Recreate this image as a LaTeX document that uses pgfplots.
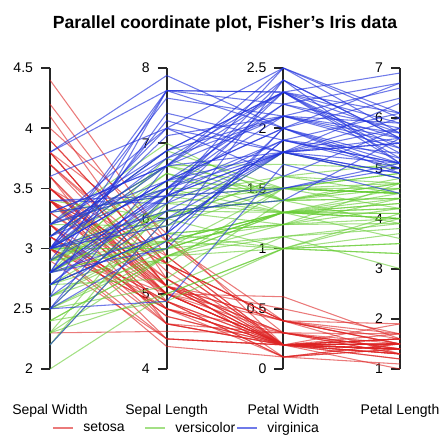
\documentclass[border=0pt]{standalone}
\usepackage{pgfplots}
\pgfplotsset{compat=1.18}
\usepackage{fontspec}
\setmainfont{Liberation Sans}
\newcommand\fs{\fontsize{10.5}{12.6}\selectfont}

\definecolor{cse}{RGB}{221,34,34}
\definecolor{cve}{RGB}{102,204,51}
\definecolor{cvi}{RGB}{34,51,221}

\tikzset{
  se/.style={cse, opacity=0.6, line width=0.8pt},
  ve/.style={cve, opacity=0.6, line width=0.8pt},
  vi/.style={cvi, opacity=0.65, line width=0.8pt},
}

% one flower: style, sepal length, sepal width, petal length, petal width
\newcommand{\fl}[5]{\addplot[#1, forget plot] coordinates {(0,#3) (1,#2) (2,#5) (3,#4)};}

\pgfplotsset{
  scaleax/.style={
    scale only axis, width=10pt, height=225.75pt, anchor=south west,
    xmin=0, xmax=1, axis x line=none, axis y line=left,
    y axis line style={-, line width=1.3pt, black!85},
    tick align=outside, major tick length=6.75pt,
    major tick style={line width=1.3pt, black!85},
    yticklabel style={font=\fs, xshift=-2.5pt},
    /pgf/number format/assume math mode=true,
  },
}

\begin{document}
\begin{tikzpicture}
\useasboundingbox (0,0) rectangle (330.75pt,325.5pt);

\begin{axis}[scaleax, at={(37.5pt,48.75pt)}, ymin=2, ymax=4.5, ytick={2,2.5,3,3.5,4,4.5}]
\end{axis}
\begin{axis}[scaleax, at={(125pt,48.75pt)}, ymin=4, ymax=8, ytick={4,5,6,7,8}]
\end{axis}
\begin{axis}[scaleax, at={(212.5pt,48.75pt)}, ymin=0, ymax=2.5, ytick={0,0.5,1,1.5,2,2.5}]
\end{axis}
\begin{axis}[scaleax, at={(300pt,48.75pt)}, ymin=1, ymax=7, ytick={1,2,3,4,5,6,7}]
\end{axis}

\begin{axis}[
  scale only axis, width=262.5pt, height=225.75pt,
  at={(37.5pt,48.75pt)}, anchor=south west,
  xmin=0, xmax=3, ymin=0, ymax=1, clip=false,
  axis line style={draw=none}, ytick=\empty,
  xtick={0,1,2,3}, major tick length=0pt,
  xticklabels={Sepal Width, Sepal Length, Petal Width, Petal Length},
  xticklabel style={font=\fs, anchor=base, yshift=-33.75pt},
  title={Parallel coordinate plot, Fisher's Iris data},
  title style={font=\bfseries\fontsize{13.2}{15.8}\selectfont, anchor=base, at={(0.5,1)}, yshift=23.5pt},
  y filter/.expression={x==0 ? (y-2)/2.5 : (x==1 ? (y-4)/4 : (x==2 ? y/2.5 : (y-1)/6))},
  legend columns=3,
  legend image code/.code={\draw[#1] (0pt,0pt) -- (15pt,0pt);},
  legend style={at={(0.0057,-0.196)}, anchor=west, draw=none, fill=none,
    inner sep=0pt, font=\fs, nodes={inner sep=0pt},
    /tikz/column sep=0pt,
    /tikz/every odd column/.append style={column sep=7.5pt}},
]
% setosa
\fl{se}{5.1}{3.5}{1.4}{0.2}
\fl{se}{4.9}{3.0}{1.4}{0.2}
\fl{se}{4.7}{3.2}{1.3}{0.2}
\fl{se}{4.6}{3.1}{1.5}{0.2}
\fl{se}{5.0}{3.6}{1.4}{0.2}
\fl{se}{5.4}{3.9}{1.7}{0.4}
\fl{se}{4.6}{3.4}{1.4}{0.3}
\fl{se}{5.0}{3.4}{1.5}{0.2}
\fl{se}{4.4}{2.9}{1.4}{0.2}
\fl{se}{4.9}{3.1}{1.5}{0.1}
\fl{se}{5.4}{3.7}{1.5}{0.2}
\fl{se}{4.8}{3.4}{1.6}{0.2}
\fl{se}{4.8}{3.0}{1.4}{0.1}
\fl{se}{4.3}{3.0}{1.1}{0.1}
\fl{se}{5.8}{4.0}{1.2}{0.2}
\fl{se}{5.7}{4.4}{1.5}{0.4}
\fl{se}{5.4}{3.9}{1.3}{0.4}
\fl{se}{5.1}{3.5}{1.4}{0.3}
\fl{se}{5.7}{3.8}{1.7}{0.3}
\fl{se}{5.1}{3.8}{1.5}{0.3}
\fl{se}{5.4}{3.4}{1.7}{0.2}
\fl{se}{5.1}{3.7}{1.5}{0.4}
\fl{se}{4.6}{3.6}{1.0}{0.2}
\fl{se}{5.1}{3.3}{1.7}{0.5}
\fl{se}{4.8}{3.4}{1.9}{0.2}
\fl{se}{5.0}{3.0}{1.6}{0.2}
\fl{se}{5.0}{3.4}{1.6}{0.4}
\fl{se}{5.2}{3.5}{1.5}{0.2}
\fl{se}{5.2}{3.4}{1.4}{0.2}
\fl{se}{4.7}{3.2}{1.6}{0.2}
\fl{se}{4.8}{3.1}{1.6}{0.2}
\fl{se}{5.4}{3.4}{1.5}{0.4}
\fl{se}{5.2}{4.1}{1.5}{0.1}
\fl{se}{5.5}{4.2}{1.4}{0.2}
\fl{se}{4.9}{3.1}{1.5}{0.2}
\fl{se}{5.0}{3.2}{1.2}{0.2}
\fl{se}{5.5}{3.5}{1.3}{0.2}
\fl{se}{4.9}{3.6}{1.4}{0.1}
\fl{se}{4.4}{3.0}{1.3}{0.2}
\fl{se}{5.1}{3.4}{1.5}{0.2}
\fl{se}{5.0}{3.5}{1.3}{0.3}
\fl{se}{4.5}{2.3}{1.3}{0.3}
\fl{se}{4.4}{3.2}{1.3}{0.2}
\fl{se}{5.0}{3.5}{1.6}{0.6}
\fl{se}{5.1}{3.8}{1.9}{0.4}
\fl{se}{4.8}{3.0}{1.4}{0.3}
\fl{se}{5.1}{3.8}{1.6}{0.2}
\fl{se}{4.6}{3.2}{1.4}{0.2}
\fl{se}{5.3}{3.7}{1.5}{0.2}
\fl{se}{5.0}{3.3}{1.4}{0.2}
% versicolor
\fl{ve}{7.0}{3.2}{4.7}{1.4}
\fl{ve}{6.4}{3.2}{4.5}{1.5}
\fl{ve}{6.9}{3.1}{4.9}{1.5}
\fl{ve}{5.5}{2.3}{4.0}{1.3}
\fl{ve}{6.5}{2.8}{4.6}{1.5}
\fl{ve}{5.7}{2.8}{4.5}{1.3}
\fl{ve}{6.3}{3.3}{4.7}{1.6}
\fl{ve}{4.9}{2.4}{3.3}{1.0}
\fl{ve}{6.6}{2.9}{4.6}{1.3}
\fl{ve}{5.2}{2.7}{3.9}{1.4}
\fl{ve}{5.0}{2.0}{3.5}{1.0}
\fl{ve}{5.9}{3.0}{4.2}{1.5}
\fl{ve}{6.0}{2.2}{4.0}{1.0}
\fl{ve}{6.1}{2.9}{4.7}{1.4}
\fl{ve}{5.6}{2.9}{3.6}{1.3}
\fl{ve}{6.7}{3.1}{4.4}{1.4}
\fl{ve}{5.6}{3.0}{4.5}{1.5}
\fl{ve}{5.8}{2.7}{4.1}{1.0}
\fl{ve}{6.2}{2.2}{4.5}{1.5}
\fl{ve}{5.6}{2.5}{3.9}{1.1}
\fl{ve}{5.9}{3.2}{4.8}{1.8}
\fl{ve}{6.1}{2.8}{4.0}{1.3}
\fl{ve}{6.3}{2.5}{4.9}{1.5}
\fl{ve}{6.1}{2.8}{4.7}{1.2}
\fl{ve}{6.4}{2.9}{4.3}{1.3}
\fl{ve}{6.6}{3.0}{4.4}{1.4}
\fl{ve}{6.8}{2.8}{4.8}{1.4}
\fl{ve}{6.7}{3.0}{5.0}{1.7}
\fl{ve}{6.0}{2.9}{4.5}{1.5}
\fl{ve}{5.7}{2.6}{3.5}{1.0}
\fl{ve}{5.5}{2.4}{3.8}{1.1}
\fl{ve}{5.5}{2.4}{3.7}{1.0}
\fl{ve}{5.8}{2.7}{3.9}{1.2}
\fl{ve}{6.0}{2.7}{5.1}{1.6}
\fl{ve}{5.4}{3.0}{4.5}{1.5}
\fl{ve}{6.0}{3.4}{4.5}{1.6}
\fl{ve}{6.7}{3.1}{4.7}{1.5}
\fl{ve}{6.3}{2.3}{4.4}{1.3}
\fl{ve}{5.6}{3.0}{4.1}{1.3}
\fl{ve}{5.5}{2.5}{4.0}{1.3}
\fl{ve}{5.5}{2.6}{4.4}{1.2}
\fl{ve}{6.1}{3.0}{4.6}{1.4}
\fl{ve}{5.8}{2.6}{4.0}{1.2}
\fl{ve}{5.0}{2.3}{3.3}{1.0}
\fl{ve}{5.6}{2.7}{4.2}{1.3}
\fl{ve}{5.7}{3.0}{4.2}{1.2}
\fl{ve}{5.7}{2.9}{4.2}{1.3}
\fl{ve}{6.2}{2.9}{4.3}{1.3}
\fl{ve}{5.1}{2.5}{3.0}{1.1}
\fl{ve}{5.7}{2.8}{4.1}{1.3}
% virginica
\fl{vi}{6.3}{3.3}{6.0}{2.5}
\fl{vi}{5.8}{2.7}{5.1}{1.9}
\fl{vi}{7.1}{3.0}{5.9}{2.1}
\fl{vi}{6.3}{2.9}{5.6}{1.8}
\fl{vi}{6.5}{3.0}{5.8}{2.2}
\fl{vi}{7.6}{3.0}{6.6}{2.1}
\fl{vi}{4.9}{2.5}{4.5}{1.7}
\fl{vi}{7.3}{2.9}{6.3}{1.8}
\fl{vi}{6.7}{2.5}{5.8}{1.8}
\fl{vi}{7.2}{3.6}{6.1}{2.5}
\fl{vi}{6.5}{3.2}{5.1}{2.0}
\fl{vi}{6.4}{2.7}{5.3}{1.9}
\fl{vi}{6.8}{3.0}{5.5}{2.1}
\fl{vi}{5.7}{2.5}{5.0}{2.0}
\fl{vi}{5.8}{2.8}{5.1}{2.4}
\fl{vi}{6.4}{3.2}{5.3}{2.3}
\fl{vi}{6.5}{3.0}{5.5}{1.8}
\fl{vi}{7.7}{3.8}{6.7}{2.2}
\fl{vi}{7.7}{2.6}{6.9}{2.3}
\fl{vi}{6.0}{2.2}{5.0}{1.5}
\fl{vi}{6.9}{3.2}{5.7}{2.3}
\fl{vi}{5.6}{2.8}{4.9}{2.0}
\fl{vi}{7.7}{2.8}{6.7}{2.0}
\fl{vi}{6.3}{2.7}{4.9}{1.8}
\fl{vi}{6.7}{3.3}{5.7}{2.1}
\fl{vi}{7.2}{3.2}{6.0}{1.8}
\fl{vi}{6.2}{2.8}{4.8}{1.8}
\fl{vi}{6.1}{3.0}{4.9}{1.8}
\fl{vi}{6.4}{2.8}{5.6}{2.1}
\fl{vi}{7.2}{3.0}{5.8}{1.6}
\fl{vi}{7.4}{2.8}{6.1}{1.9}
\fl{vi}{7.9}{3.8}{6.4}{2.0}
\fl{vi}{6.4}{2.8}{5.6}{2.2}
\fl{vi}{6.3}{2.8}{5.1}{1.5}
\fl{vi}{6.1}{2.6}{5.6}{1.4}
\fl{vi}{7.7}{3.0}{6.1}{2.3}
\fl{vi}{6.3}{3.4}{5.6}{2.4}
\fl{vi}{6.4}{3.1}{5.5}{1.8}
\fl{vi}{6.0}{3.0}{4.8}{1.8}
\fl{vi}{6.9}{3.1}{5.4}{2.1}
\fl{vi}{6.7}{3.1}{5.6}{2.4}
\fl{vi}{6.9}{3.1}{5.1}{2.3}
\fl{vi}{5.8}{2.7}{5.1}{1.9}
\fl{vi}{6.8}{3.2}{5.9}{2.3}
\fl{vi}{6.7}{3.3}{5.7}{2.5}
\fl{vi}{6.7}{3.0}{5.2}{2.3}
\fl{vi}{6.3}{2.5}{5.0}{1.9}
\fl{vi}{6.5}{3.0}{5.2}{2.0}
\fl{vi}{6.2}{3.4}{5.4}{2.3}
\fl{vi}{5.9}{3.0}{5.1}{1.8}

\addlegendimage{se}\addlegendentry{\makebox[45.75pt][l]{setosa}}
\addlegendimage{ve}\addlegendentry{\makebox[45.75pt][l]{versicolor}}
\addlegendimage{vi}\addlegendentry{virginica}
\end{axis}
\end{tikzpicture}
\end{document}
